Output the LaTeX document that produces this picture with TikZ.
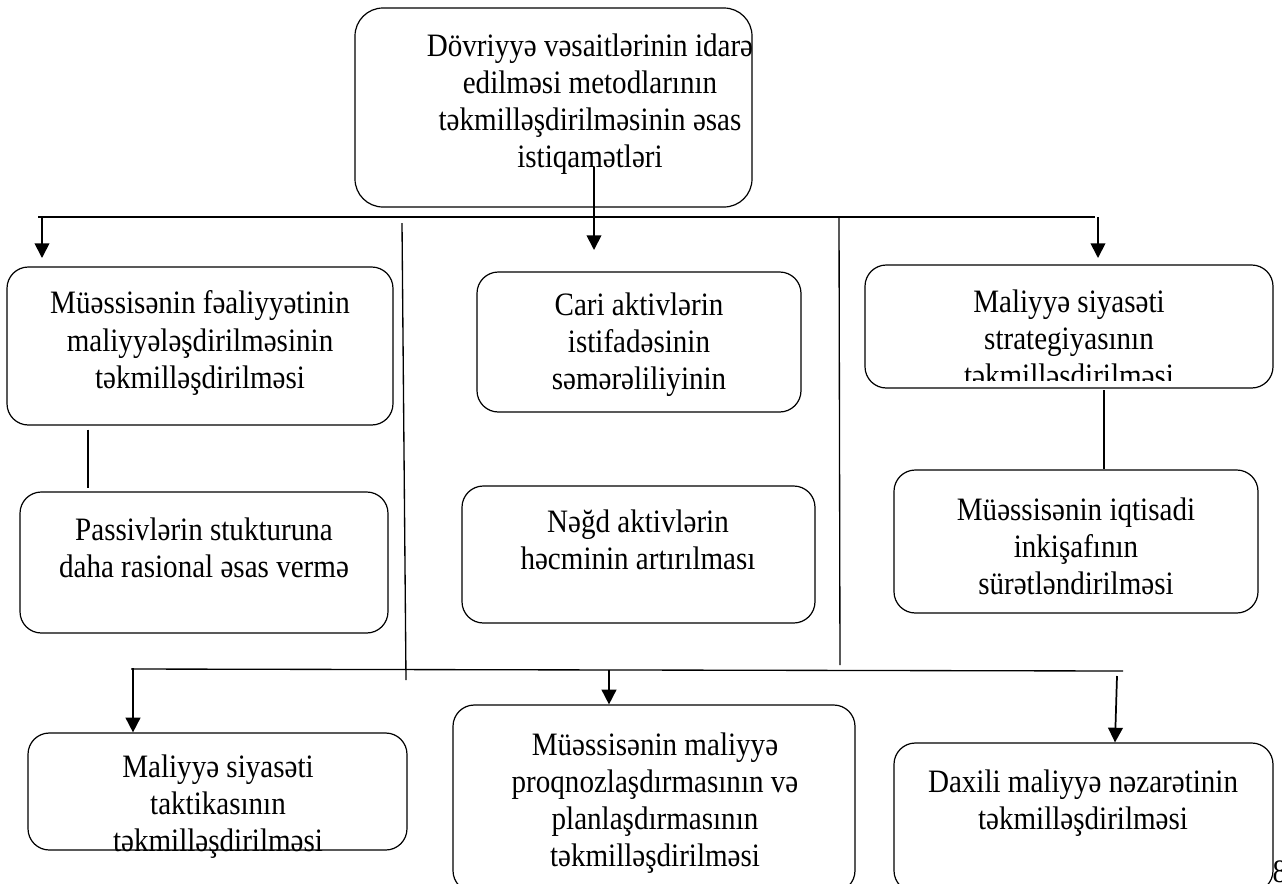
\documentclass[tikz,border=0pt]{standalone}
\usepackage{fontspec}
\setmainfont{Liberation Serif}[FakeStretch=0.89]
\usetikzlibrary{arrows.meta,fit}
\begin{document}
\begin{tikzpicture}[x=0.75pt,y=-0.75pt,
  box/.style={draw,line width=0.9pt,rounded corners=16pt,inner sep=0pt},
  txt/.style={align=center,font=\fontsize{24.5}{27.8}\selectfont,inner sep=0pt},
  conn/.style={line width=1pt},
  arr/.style={line width=1.3pt,-{Triangle[width=11pt,length=11pt]}}]
\useasboundingbox (0,0) rectangle (1282,883);
\clip (0,0) rectangle (1282,883);
% boxes
\node[box,rounded corners=21pt,fit={(355,8)(752,207)}] (b0) {};
\node[txt] (t0) at (590,104) {Dövriyyə vəsaitlərinin idarə\\edilməsi metodlarının\\təkmilləşdirilməsinin əsas\\istiqamətləri};
\node[box,fit={(7,267)(393,425)}] (b1) {};
\node[txt] (t1) at (200,343) {Müəssisənin fəaliyyətinin\\maliyyələşdirilməsinin\\təkmilləşdirilməsi};
\node[box,fit={(20,492)(388,633)}] (b2) {};
\node[txt] (t2) at (204,548) {Passivlərin stukturuna\\daha rasional əsas vermə};
\node[box,fit={(477,272)(801,412)}] (b3) {};
\node[txt] (t3) at (639,345) {Cari aktivlərin\\istifadəsinin\\səmərəliliyinin};
\node[box,fit={(462,486)(815,623)}] (b4) {};
\node[txt] (t4) at (638,540) {Nəğd aktivlərin\\həcminin artırılması};
\node[box,fit={(865,265)(1273,388)}] (b5) {};
\begin{scope}
\clip (865,265) rectangle (1273,380);
\node[txt] (t5) at (1069,342) {Maliyyə siyasəti\\strategiyasının\\təkmilləşdirilməsi};
\end{scope}
\node[box,fit={(894,470)(1258,613)}] (b6) {};
\node[txt] (t6) at (1076,546) {Müəssisənin iqtisadi\\inkişafının\\sürətləndirilməsi};
\node[box,fit={(28,733)(407,850)}] (b7) {};
\node[txt] (t7) at (218,807) {Maliyyə siyasəti\\taktikasının\\təkmilləşdirilməsi};
\node[box,fit={(453,705)(855,892)}] (b8) {};
\node[txt] (t8) at (655,803) {Müəssisənin maliyyə\\proqnozlaşdırmasının və\\planlaşdırmasının\\təkmilləşdirilməsi};
\node[box,fit={(894,743)(1273,892)}] (b9) {};
\node[txt] (t9) at (1083,803) {Daxili maliyyə nəzarətinin\\təkmilləşdirilməsi};
\node[txt,anchor=center] (pg) at (1280,872) {8};
% coordinates
\coordinate (h1) at (38,217);
\coordinate (h2) at (1095,217);
\coordinate (c0) at (594,167);
\coordinate (a0) at (594,250);
\coordinate (l0) at (42,217);
\coordinate (a1) at (42,258);
\coordinate (r0) at (1098,217);
\coordinate (a5) at (1098,258);
\coordinate (v1a) at (402,223);
\coordinate (v1b) at (406,680);
\coordinate (v2a) at (839,217);
\coordinate (v2b) at (840,665);
\coordinate (g1) at (131,669);
\coordinate (g2) at (1123,671);
\coordinate (d1) at (133,668);
\coordinate (d2) at (609,670);
\coordinate (d3) at (1117,676);
% connectors
\draw[conn] (h1) -- (h2);
\draw[arr] (c0) -- (a0);
\draw[arr] (l0) -- (a1);
\draw[arr] (r0) -- (a5);
\draw[conn] (v1a) -- (v1b);
\draw[conn] (v2a) -- (v2b);
\draw[conn] (b1.south -| 88,0) ++(0,4) -- (88,488);
\draw[conn] (1104,390) -- (b6.north -| 1104,0);
\draw[conn] (g1) -- (g2);
\draw[arr] (d1) -- (b7.north -| d1);
\draw[arr] (d2) -- (b8.north -| d2);
\draw[arr] (d3) -- (b9.north -| 1115,0);
\end{tikzpicture}
\end{document}
